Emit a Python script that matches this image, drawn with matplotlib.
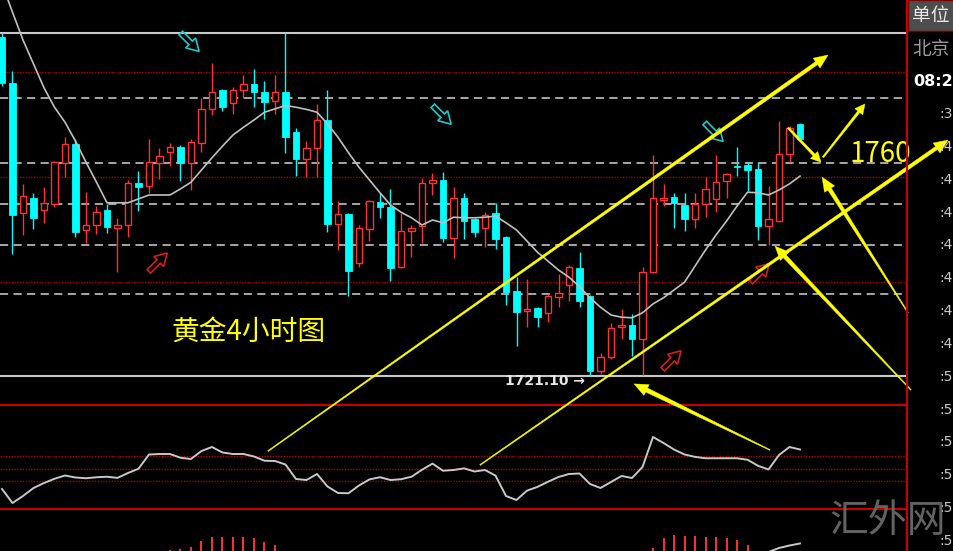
import numpy as np
import matplotlib
matplotlib.use("Agg")
import matplotlib.pyplot as plt
from matplotlib.patches import Polygon, Rectangle
from matplotlib.lines import Line2D
from matplotlib.transforms import IdentityTransform

plt.rcParams['font.family'] = ['Noto Sans CJK SC', 'DejaVu Sans']

# ---- gold 4h candles (price) ----
opens = [1782.1, 1773.9, 1750.5, 1753.2, 1751.0, 1752.1, 1759.5, 1762.9, 1747.4, 1748.3,
         1751.0, 1747.8, 1748.3, 1755.9, 1755.3, 1759.5, 1761.4, 1762.3, 1759.5, 1763.1,
         1769.2, 1772.6, 1770.3, 1772.6, 1773.7, 1772.2, 1770.6, 1772.2, 1765.0, 1760.2,
         1762.2, 1767.2, 1748.5, 1750.3, 1741.5, 1747.6, 1752.4, 1751.5, 1740.7, 1747.2,
         1748.1, 1755.9, 1756.4, 1746.0, 1753.2, 1749.4, 1747.8, 1750.5, 1746.1, 1736.4,
         1732.8, 1733.4, 1732.5, 1735.3, 1737.5, 1740.6, 1735.5, 1722.0, 1724.5, 1729.9,
         1730.3, 1727.8, 1739.8, 1752.8, 1753.3, 1751.9, 1749.4, 1752.1, 1753.0, 1756.2,
         1758.9, 1759.1, 1758.4, 1748.1, 1749.0, 1761.1, 1766.5]
closes = [1773.9, 1750.1, 1753.5, 1749.6, 1752.3, 1759.6, 1762.9, 1747.0, 1748.3, 1750.6,
          1747.9, 1748.3, 1755.9, 1755.1, 1759.6, 1760.7, 1762.3, 1759.5, 1763.2, 1769.2,
          1772.2, 1769.5, 1772.6, 1773.7, 1772.2, 1770.4, 1772.2, 1764.1, 1760.2, 1762.2,
          1767.2, 1748.5, 1750.3, 1740.0, 1747.8, 1752.6, 1751.5, 1740.6, 1747.2, 1747.8,
          1755.9, 1756.4, 1746.0, 1753.2, 1749.0, 1747.0, 1750.1, 1745.8, 1736.2, 1732.6,
          1733.2, 1731.7, 1735.5, 1736.1, 1740.7, 1734.6, 1722.0, 1724.5, 1729.8, 1730.3,
          1727.8, 1739.8, 1753.2, 1753.2, 1752.3, 1749.4, 1752.1, 1754.8, 1756.0, 1757.5,
          1758.7, 1758.2, 1748.1, 1749.4, 1761.1, 1765.8, 1763.8]
highs = [1782.9, 1776.0, 1755.7, 1754.1, 1755.1, 1759.9, 1764.1, 1763.8, 1754.2, 1751.7,
         1752.1, 1749.6, 1756.4, 1758.0, 1763.8, 1762.2, 1763.1, 1762.7, 1763.8, 1771.2,
         1777.5, 1772.8, 1773.1, 1775.3, 1776.4, 1774.2, 1775.3, 1782.9, 1765.8, 1763.4,
         1770.1, 1772.6, 1752.6, 1750.5, 1748.3, 1752.8, 1754.1, 1754.8, 1750.5, 1748.3,
         1756.8, 1757.7, 1757.8, 1755.1, 1754.1, 1749.6, 1750.6, 1752.3, 1746.3, 1738.9,
         1738.6, 1733.5, 1735.9, 1739.5, 1741.1, 1743.4, 1735.7, 1725.3, 1730.7, 1733.2,
         1732.3, 1740.7, 1760.9, 1755.7, 1754.1, 1754.1, 1754.1, 1756.9, 1760.9, 1757.7,
         1762.3, 1759.6, 1759.6, 1755.3, 1767.0, 1766.1, 1766.7]
lows = [1773.3, 1743.1, 1746.5, 1747.6, 1748.7, 1751.5, 1756.9, 1746.1, 1745.1, 1746.7,
        1746.9, 1739.8, 1746.1, 1750.8, 1754.1, 1756.6, 1758.9, 1756.2, 1754.6, 1761.4,
        1768.1, 1768.8, 1768.3, 1771.2, 1769.5, 1767.4, 1768.3, 1761.3, 1757.1, 1756.9,
        1756.9, 1747.0, 1743.8, 1735.5, 1740.7, 1745.4, 1749.6, 1738.2, 1740.5, 1742.5,
        1745.1, 1753.7, 1745.2, 1742.4, 1745.8, 1746.1, 1744.3, 1744.0, 1733.9, 1726.5,
        1729.9, 1729.9, 1730.8, 1733.5, 1734.6, 1733.5, 1721.1, 1721.5, 1724.2, 1727.8,
        1724.7, 1721.3, 1739.6, 1751.7, 1747.8, 1747.2, 1747.8, 1749.7, 1750.6, 1753.2,
        1757.1, 1754.4, 1745.6, 1744.7, 1748.8, 1759.6, 1763.6]
ma = [1791.7, 1786.6, 1781.6, 1777.3, 1773.0, 1769.5, 1766.8, 1763.4, 1759.6, 1756.0,
      1752.3, 1752.3, 1752.3, 1753.0, 1753.7, 1753.7, 1753.7, 1754.8, 1756.0, 1758.2,
      1760.4, 1762.5, 1764.5, 1765.9, 1767.2, 1768.6, 1769.2, 1769.8, 1769.5, 1769.1,
      1768.6, 1766.5, 1764.1, 1761.3, 1758.7, 1756.4, 1754.1, 1751.9, 1750.6, 1749.6,
      1748.3, 1749.2, 1748.7, 1749.7, 1749.6, 1749.6, 1749.7, 1749.9, 1748.7, 1747.4,
      1745.4, 1743.4, 1741.8, 1740.2, 1738.9, 1737.2, 1735.2, 1733.5, 1732.1, 1731.7,
      1731.6, 1732.5, 1734.1, 1735.2, 1736.6, 1738.0, 1740.9, 1743.8, 1746.5, 1749.0,
      1751.7, 1754.2, 1754.1, 1753.7, 1754.6, 1755.7, 1757.1]

# ---- oscillator panel ----
osc = [23.6, 12.4, 18.0, 24.4, 28.4, 31.8, 34.4, 32.8, 32.2, 33.0,
       33.4, 32.5, 36.4, 39.8, 51.2, 51.6, 51.6, 48.6, 47.6, 54.0,
       57.2, 52.8, 51.6, 51.6, 49.6, 46.2, 46.0, 43.2, 31.6, 30.8,
       35.6, 25.6, 20.4, 20.2, 26.4, 31.3, 33.0, 30.8, 31.4, 33.4,
       39.0, 43.9, 38.2, 38.8, 40.1, 37.6, 38.8, 34.3, 18.0, 14.8,
       22.3, 25.3, 29.4, 33.2, 35.6, 36.0, 27.6, 24.4, 29.2, 34.0,
       32.4, 41.2, 65.2, 60.4, 55.2, 51.2, 49.3, 48.2, 48.2, 48.2,
       48.2, 47.0, 42.2, 39.2, 50.8, 57.2, 55.2]
osc_levels = [50, 40, 30]

# ---- MACD panel (only the visible tops) ----
macd_idx = [16, 17, 18, 19, 20, 21, 22, 23, 24, 25, 26,
            62, 63, 64, 65, 66, 67, 68, 69, 70, 71]
macd_hist = [0.1, 0.2, 0.4, 1.0, 1.4, 1.4, 1.4, 1.4, 1.3, 0.9, 0.6,
             0.3, 1.3, 1.6, 1.5, 1.5, 1.4, 1.4, 1.3, 1.1, 0.6]
dif_idx = [73, 74, 75, 76]
dif = [-0.1, 0.3, 0.55, 0.75]

# ---- levels on the price panel ----
hi_lo = [1782.9, 1721.1]
red_levels = [1775.8, 1756.9, 1738.0]
gray_levels = [1771.2, 1759.5, 1752.1, 1744.7, 1735.9]

times = [':38', ':40', ':41', ':42', ':44', ':45', ':47', ':49',
         ':50', ':51', ':53', ':54', ':56', ':58']

RED = '#ff3232'
CYAN = '#00ffff'
YEL = '#ffff00'
GRAY = '#c8c8c8'

W, H = 954, 551
fig = plt.figure(figsize=(W / 100, H / 100), dpi=100, facecolor='black')


def box(x0, y0, x1, y1):
    return [x0 / W, 1 - y1 / H, (x1 - x0) / W, (y1 - y0) / H]


ax = fig.add_axes(box(0, 0, 907, 405))
osc_ax = fig.add_axes(box(0, 405, 907, 509))
macd_ax = fig.add_axes(box(0, 509, 907, 551))
XLIM = (-0.19, 86.19)
for a in (ax, osc_ax, macd_ax):
    a.set_xlim(*XLIM)
    a.set_axis_off()
ax.set_ylim(1715.9, 1788.8)
osc_ax.set_ylim(7.6, 90.8)
macd_ax.set_ylim(0, 4.2)

# level lines
for p in hi_lo:
    ax.axhline(p, color=GRAY, lw=1.5, zorder=1)
for p in red_levels:
    ax.axhline(p, color='#b40000', lw=1, ls=(0, (1, 1)), zorder=1)
for p in gray_levels:
    ax.axhline(p, color='#b4b4b4', lw=1.3, ls=(0, (4.5, 3)), zorder=1)

# candles
bw = 0.64
for i, (o, c, h, l) in enumerate(zip(opens, closes, highs, lows)):
    lo_b, hi_b = min(o, c), max(o, c)
    hgt = max(hi_b - lo_b, 0.2)
    if c >= o:
        ax.vlines(i, l, lo_b, color=RED, lw=1, zorder=3)
        ax.vlines(i, hi_b, h, color=RED, lw=1, zorder=3)
        ax.add_patch(Rectangle((i - bw / 2, lo_b), bw, hgt, facecolor='black',
                               edgecolor=RED, lw=1, zorder=3))
    else:
        ax.vlines(i, l, h, color=CYAN, lw=1, zorder=3)
        ax.add_patch(Rectangle((i - bw / 2, lo_b), bw, hgt, facecolor=CYAN,
                               edgecolor=CYAN, lw=0.6, zorder=3))

ax.plot(range(len(ma)), ma, color='#c0c0c0', lw=1.2, zorder=4)

# oscillator
osc_ax.axhline(osc_ax.get_ylim()[1], color='#c80000', lw=1.5, clip_on=False)
osc_ax.axhline(osc_ax.get_ylim()[0], color='#c80000', lw=1.5, clip_on=False)
for v in osc_levels:
    osc_ax.axhline(v, color='#b40000', lw=1, ls=(0, (1, 1)))
osc_ax.plot(range(len(osc)), osc, color=GRAY, lw=1.4)

# macd
macd_ax.vlines(macd_idx, 0, macd_hist, color=RED, lw=1.4)
macd_ax.plot(dif_idx, dif, color=GRAY, lw=1.4)

# right info panel
fig.add_artist(Rectangle((908 / W, 1 - 31 / H), 46 / W, 31 / H, transform=fig.transFigure,
                         facecolor='#4d4d4d', edgecolor='#7a0000', lw=1))
fig.add_artist(Line2D([907 / W, 907 / W], [0, 1], transform=fig.transFigure,
                      color='#c80000', lw=1.5))
fig.text(912 / W, 1 - 16 / H, '单位', color='#e8e8e8', fontsize=13.5, va='center')
fig.text(912 / W, 1 - 50 / H, '北京', color='#9a9a9a', fontsize=13.5, va='center')
fig.text(913 / W, 1 - 82 / H, '08:26', color='white', fontsize=11.5, weight='bold',
         family='DejaVu Sans', va='center')
for k, t in enumerate(times):
    fig.text(939 / W, 1 - (114 + 32.85 * k) / H, t, color=GRAY, fontsize=10,
             family='DejaVu Sans', va='center')


def taper_arrow(p0, p1, w0=0.5, w1=2.0, head_len=14, head_w=6):
    a = ax.transData.transform(p0)
    b = ax.transData.transform(p1)
    d = b - a
    u = d / np.hypot(*d)
    n = np.array([-u[1], u[0]])
    base = b - u * head_len
    pts = [a + n * w0, base + n * w1, base + n * head_w, b,
           base - n * head_w, base - n * w1, a - n * w0]
    fig.add_artist(Polygon(pts, closed=True, transform=IdentityTransform(),
                           facecolor=YEL, edgecolor=YEL, lw=0.3))


def hollow_arrow(pos, angle, color):
    c = ax.transData.transform(pos)
    shape = np.array([(-13, -2.5), (1, -2.5), (1, -7), (13, 0), (1, 7), (1, 2.5), (-13, 2.5)])
    t = np.deg2rad(angle)
    rot = np.array([[np.cos(t), -np.sin(t)], [np.sin(t), np.cos(t)]])
    fig.add_artist(Polygon(shape @ rot.T + c, closed=True, transform=IdentityTransform(),
                           fill=False, edgecolor=color, lw=1.2))


# hollow signal arrows
for pos in [(17.9, 1781.2), (41.9, 1768.1), (67.8, 1765.0)]:
    hollow_arrow(pos, -45, '#1fc8c8')
for pos in [(14.86, 1741.6), (63.8, 1724.0), (72.2, 1739.7)]:
    hollow_arrow(pos, 45, '#d02020')

# yellow channel / annotation arrows
taper_arrow((25.33, 1707.6), (78.67, 1778.9), 0.5, 1.8)
taper_arrow((45.52, 1705.1), (90.1, 1763.6), 0.5, 1.8)
taper_arrow((74.86, 1765.8), (78.0, 1759.6), 1.0, 1.3, 10, 5)
taper_arrow((78.19, 1760.5), (82.19, 1770.1), 0.8, 1.3, 10, 5)
taper_arrow((86.29, 1732.5), (78.1, 1756.9), 0.4, 2.0)
taper_arrow((86.57, 1718.6), (73.62, 1744.5), 0.4, 2.0)
taper_arrow((73.14, 1707.8), (60.19, 1719.7), 0.4, 2.2)

ax.text(16.19, 1729.0, '黄金4小时图', color=YEL, fontsize=20, va='center', ha='left')
ax.text(80.76, 1761.0, '1760', color=YEL, fontsize=20, va='center', ha='left')
ax.text(47.9, 1720.2, '1721.10 →', color='#e6e6e6', fontsize=10, weight='bold',
        family='DejaVu Sans', va='center', ha='left', zorder=6)

fig.text(829 / W, 1 - 521 / H, '汇外网', color='#6e6e6e', fontsize=28, va='center',
         ha='left', alpha=0.9)

fig.savefig('out.png', dpi=100, facecolor='black')
